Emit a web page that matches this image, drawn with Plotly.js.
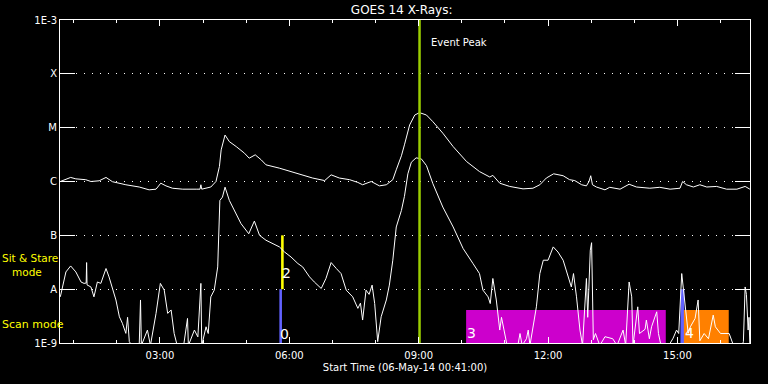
<!DOCTYPE html>
<html>
<head>
<meta charset="utf-8">
<script src="https://cdn.plot.ly/plotly-3.0.1.min.js"></script>
<style>
html,body{margin:0;padding:0;background:#000;}
#chart{width:768px;height:384px;}
</style>
</head>
<body>
<div id="chart"></div>
<script>
// Time in hours (UT) on 06-May-14, flux in W/m^2
const longTime = [0.69,0.82,0.93,1.05,1.28,1.40,1.59,1.75,1.90,2.21,2.52,2.75,2.91,3.02,3.14,3.29,3.53,3.84,3.93,3.95,3.97,4.18,4.30,4.38,4.42,4.51,4.61,4.77,4.96,5.07,5.21,5.35,5.46,5.77,6.16,6.54,6.82,6.97,7.16,7.40,7.59,7.70,7.90,8.09,8.25,8.40,8.48,8.60,8.67,8.79,8.91,9.02,9.18,9.33,9.56,9.80,10.11,10.41,10.65,10.72,10.88,11.11,11.42,11.65,11.81,11.96,12.13,12.35,12.50,12.62,12.78,12.89,12.95,12.99,13.03,13.12,13.32,13.43,13.67,13.88,14.05,14.36,14.59,14.83,15.06,15.12,15.21,15.37,15.52,15.68,15.91,16.14,16.38,16.57,16.68];
const longFlux = [1.0e-6,1.11e-6,1.19e-6,1.12e-6,1.08e-6,1.0e-6,1.03e-6,1.19e-6,0.99e-6,8.7e-7,7.9e-7,7.0e-7,7.2e-7,9.3e-7,8.3e-7,7.5e-7,7.2e-7,7.2e-7,7.2e-7,8.7e-7,7.2e-7,7.9e-7,1.0e-6,1.9e-6,3.87e-6,7.3e-6,5.5e-6,4.45e-6,3.36e-6,2.71e-6,3.13e-6,2.52e-6,2.04e-6,1.77e-6,1.43e-6,1.16e-6,1.04e-6,1.33e-6,1.16e-6,1.08e-6,9.6e-7,8.7e-7,1.0e-6,8.3e-7,8.7e-7,1.08e-6,1.65e-6,3.0e-6,4.8e-6,1.12e-5,1.72e-5,1.9e-5,1.72e-5,1.29e-5,7.9e-6,4.45e-6,2.35e-6,1.53e-6,1.21e-6,1.3e-6,9.3e-7,8.1e-7,7.3e-7,7.5e-7,8.7e-7,1.16e-6,1.39e-6,1.28e-6,1.08e-6,1.04e-6,8.7e-7,8.3e-7,1.0e-6,1.28e-6,8.7e-7,7.9e-7,7.0e-7,7.8e-7,7.2e-7,8.9e-7,7.9e-7,7.5e-7,7.8e-7,7.2e-7,7.5e-7,1.0e-6,8.7e-7,7.9e-7,8.7e-7,7.9e-7,8.1e-7,7.2e-7,7.2e-7,8.1e-7,7.2e-7];

const shortTime = [0.69,0.74,0.82,0.93,1.05,1.17,1.24,1.29,1.30,1.31,1.40,1.47,1.55,1.63,1.75,1.82,1.90,1.98,2.06,2.13,2.21,2.25,2.29,2.35,2.45,2.52,2.55,2.57,2.71,2.78,2.91,3.01,3.10,3.18,3.26,3.33,3.40,3.55,3.64,3.66,3.80,3.88,3.95,3.97,4.07,4.12,4.18,4.26,4.34,4.39,4.45,4.51,4.61,4.73,4.88,5.06,5.19,5.31,5.46,5.77,5.89,6.04,6.20,6.31,6.47,6.58,6.74,6.85,6.97,7.09,7.20,7.32,7.47,7.59,7.65,7.70,7.78,7.85,7.92,7.98,8.02,8.05,8.13,8.25,8.32,8.40,8.48,8.60,8.67,8.75,8.83,8.94,9.06,9.18,9.33,9.56,9.80,10.03,10.26,10.41,10.49,10.61,10.66,10.72,10.80,10.88,10.92,10.99,11.05,11.30,11.35,11.40,11.50,11.54,11.58,11.73,11.81,11.89,12.00,12.12,12.23,12.35,12.46,12.54,12.59,12.66,12.74,12.80,12.89,12.92,12.98,13.01,13.05,13.10,13.20,13.32,13.50,13.60,13.74,13.80,13.88,13.94,13.97,14.08,14.12,14.25,14.28,14.35,14.40,14.52,14.56,14.62,14.80,14.90,14.98,15.03,15.10,15.17,15.25,15.30,15.41,15.48,15.52,15.62,15.72,15.83,15.88,16.00,16.20,16.30,16.50,16.53,16.57,16.60,16.64,16.66,16.68];
const shortFlux = [7.2e-9,1.1e-8,2.09e-8,2.7e-8,2.09e-8,1.36e-8,1.28e-8,1.3e-8,3.12e-8,1.2e-8,1.1e-8,7.2e-9,1.36e-8,1.28e-8,2.42e-8,1.69e-8,1.03e-8,6.3e-9,3.07e-9,2.32e-9,1.51e-9,3.0e-9,1.06e-9,9e-10,9e-10,9e-10,6.3e-9,9e-10,1.74e-9,9e-10,3.55e-9,1.28e-8,9.6e-9,3.55e-9,4.1e-9,1.51e-9,9e-10,9e-10,2.86e-9,9e-10,1.74e-9,1.3e-9,1.28e-8,9e-10,2.0e-9,1.5e-9,7.2e-9,9.6e-9,2.59e-8,4.45e-7,5.13e-7,7.85e-7,4.45e-7,2.9e-7,1.65e-7,1.07e-7,1.84e-7,1.0e-7,8.1e-8,6.1e-8,4.9e-8,3.96e-8,2.99e-8,2.59e-8,1.69e-8,1.36e-8,1.03e-8,1.58e-8,3.12e-8,2.42e-8,1.95e-8,9.6e-9,7.2e-9,4.4e-9,5.5e-9,2.67e-9,9.6e-9,8e-9,1.19e-8,5.4e-9,2.0e-9,1.06e-9,3.07e-9,6.3e-9,1.19e-8,3.45e-8,1.43e-7,2.9e-7,5.3e-7,1.39e-6,2.28e-6,2.75e-6,2.64e-6,1.98e-6,9.1e-7,3.35e-7,1.43e-7,5.7e-8,2.99e-8,1.95e-8,9.6e-9,7.2e-9,5.4e-9,1.58e-8,6.3e-9,1.74e-9,3.0e-9,1.51e-9,9e-10,9e-10,1.5e-9,9e-10,1.2e-9,1.74e-9,9e-10,4.7e-9,1.95e-8,3.45e-8,3.45e-8,6.1e-8,4.9e-8,3.45e-8,1.69e-8,1.1e-8,1.95e-8,7.2e-9,1.74e-9,9e-10,1.58e-8,3e-9,5.3e-8,7.3e-8,1.15e-9,1.5e-9,9e-10,1.31e-9,1.2e-9,9e-10,1.74e-9,9e-10,1.36e-8,7.2e-9,9e-10,4.7e-9,1.5e-9,1.8e-9,2.67e-9,1.2e-9,2.0e-9,3.8e-9,1.5e-9,9e-10,9e-10,1.23e-9,1.74e-9,1.5e-9,1.95e-8,6.3e-9,1.51e-9,2e-9,2.86e-9,6.3e-9,1.1e-9,1.5e-9,1.2e-9,3.3e-9,2.0e-9,1.5e-9,1.5e-9,9e-10,9e-10,1.06e-9,1.1e-8,8e-9,1.74e-9,3.0e-9,9e-10];

// Observing-mode bars
const modeStart = [5.77, 5.81, 10.10, 15.07, 15.15];
const modeEnd   = [5.83, 5.87, 14.73, 15.16, 16.19];
const modeLow   = [1e-9, 1e-8, 1e-9, 1e-9, 1e-9];
const modeHigh  = [1e-8, 1e-7, 4.1e-9, 1e-8, 4.1e-9];
const modeColor = ['#6262ff', '#ffff00', '#cc00cc', '#6262ff', '#ff8000'];
const modeLabel = ['0', '2', '3', '', '4'];
const modeLabelLevel = [-8.83, -7.70, -8.82, null, -8.81];

const eventPeakTime = 9.02;
const tickHours = [3, 6, 9, 12, 15];
const tickText = ['03:00', '06:00', '09:00', '12:00', '15:00'];
const yTickVals = [1e-9, 1e-8, 1e-7, 1e-6, 1e-5, 1e-4, 1e-3];
const yTickText = ['1E-9', 'A', 'B', 'C', 'M', 'X', '1E-3'];

const FONT = 'DejaVu Sans';
const traces = [];
for (let i = 0; i < modeStart.length; i++) {
  traces.push({
    type: 'scatter', mode: 'lines', fill: 'toself', fillcolor: modeColor[i],
    x: [modeStart[i], modeEnd[i], modeEnd[i], modeStart[i], modeStart[i]],
    y: [modeLow[i], modeLow[i], modeHigh[i], modeHigh[i], modeLow[i]],
    line: {width: 0, color: modeColor[i]}, hoverinfo: 'skip', showlegend: false
  });
}
traces.push({type: 'scatter', mode: 'lines', x: longTime, y: longFlux,
  line: {color: '#ffffff', width: 1}, showlegend: false});
traces.push({type: 'scatter', mode: 'lines', x: shortTime, y: shortFlux,
  line: {color: '#ffffff', width: 1}, showlegend: false});
traces.push({type: 'scatter', mode: 'lines', x: [eventPeakTime, eventPeakTime], y: [1e-9, 1e-3],
  line: {color: '#9acd00', width: 2.5}, showlegend: false});

const annotations = [
  {xref: 'x', yref: 'y', x: eventPeakTime, y: -3.42, xanchor: 'left', yanchor: 'middle', xshift: 9,
   text: 'Event Peak', showarrow: false, font: {family: FONT, size: 10, color: '#ffffff'}},
  {xref: 'paper', yref: 'y', x: 0, y: -7.551, xanchor: 'left', yanchor: 'middle', xshift: -60, align: 'left',
   text: 'Sit &amp; Stare<br>&nbsp;&nbsp;&nbsp;mode', showarrow: false, font: {family: FONT, size: 10.5, color: '#ffff00'}},
  {xref: 'paper', yref: 'y', x: 0, y: -8.647, xanchor: 'left', yanchor: 'middle', xshift: -60,
   text: 'Scan mode', showarrow: false, font: {family: FONT, size: 11, color: '#ffff00'}}
];
for (let i = 0; i < modeLabel.length; i++) {
  if (!modeLabel[i]) continue;
  annotations.push({xref: 'x', yref: 'y', x: modeStart[i], y: modeLabelLevel[i], xanchor: 'left', yanchor: 'middle',
    xshift: -1, text: modeLabel[i], showarrow: false, font: {family: FONT, size: 14, color: '#ffffff'}});
}

const layout = {
  width: 768, height: 384,
  paper_bgcolor: '#000000', plot_bgcolor: '#000000',
  margin: {l: 60, r: 18, t: 20, b: 41, pad: 0},
  showlegend: false,
  title: {text: 'GOES 14 X-Rays:', x: 0.523, y: 0.975, xref: 'container', yref: 'container',
          xanchor: 'center', yanchor: 'middle', font: {family: FONT, size: 12, color: '#ffffff'}},
  xaxis: {
    range: [0.683, 16.683], tickvals: tickHours, ticktext: tickText,
    ticks: 'inside', ticklen: 6, tickcolor: '#ffffff', tickwidth: 1,
    minor: {dtick: 1, tick0: 0, ticks: 'inside', ticklen: 3, tickcolor: '#ffffff', showgrid: false},
    showline: true, linecolor: '#ffffff', linewidth: 1, mirror: 'allticks',
    showgrid: false, zeroline: false, automargin: false, ticklabelstandoff: 3,
    tickfont: {family: FONT, size: 10, color: '#ffffff'},
    title: {text: 'Start Time (06-May-14 00:41:00)', standoff: 3, font: {family: FONT, size: 10, color: '#ffffff'}}
  },
  yaxis: {
    type: 'log', range: [-9, -3], tickvals: yTickVals, ticktext: yTickText,
    ticks: 'inside', ticklen: 15, tickcolor: '#ffffff', tickwidth: 1,
    showline: true, linecolor: '#ffffff', linewidth: 1, mirror: 'allticks',
    showgrid: true, gridcolor: '#ffffff', gridwidth: 1, griddash: '1px,7px',
    zeroline: false, automargin: false,
    tickfont: {family: FONT, size: 10, color: '#ffffff'}
  },
  annotations: annotations
};

Plotly.newPlot('chart', traces, layout, {displayModeBar: false, staticPlot: true});
</script>
</body>
</html>
